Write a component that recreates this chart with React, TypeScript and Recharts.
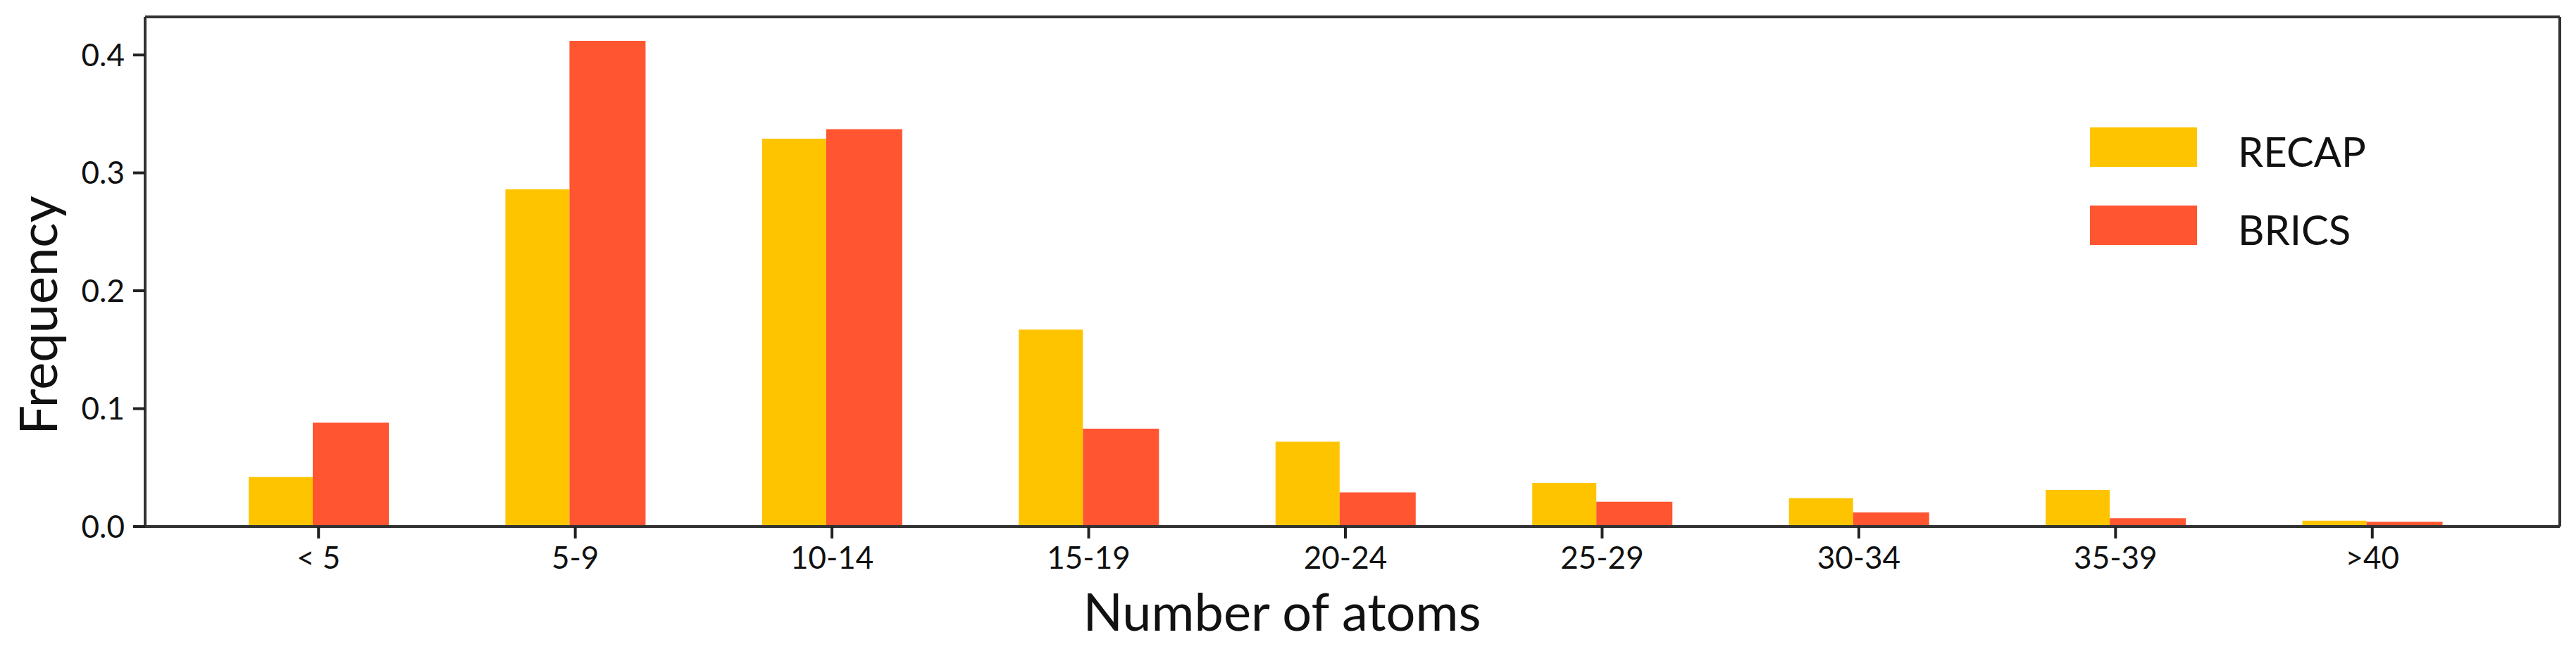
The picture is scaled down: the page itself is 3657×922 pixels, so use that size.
import React from 'react';
import { BarChart, Bar, XAxis, YAxis, Legend, Label } from 'recharts';

const categories = ['< 5', '5-9', '10-14', '15-19', '20-24', '25-29', '30-34', '35-39', '>40'];
const recapFreq = [0.042, 0.286, 0.329, 0.167, 0.072, 0.037, 0.024, 0.031, 0.005];
const bricsFreq = [0.088, 0.412, 0.337, 0.083, 0.029, 0.021, 0.012, 0.007, 0.004];
const yTicks = [0, 0.1, 0.2, 0.3, 0.4];
const seriesOrder = ['RECAP', 'BRICS'];

const YELLOW = '#FFC400';
const RED = '#FF5530';
const FONT = 'Lato, "Open Sans", sans-serif';

const data = categories.map((name, i) => ({ name, RECAP: recapFreq[i], BRICS: bricsFreq[i] }));

// legend box drawn in html, top right inside the plot
const renderLegend = (props: any) => {
  const payload = [...(props.payload || [])].sort(
    (a: any, b: any) => seriesOrder.indexOf(a.value) - seriesOrder.indexOf(b.value)
  );
  return (
    <div style={{ display: 'flex', flexDirection: 'column', gap: 55 }}>
      {payload.map((entry: any) => (
        <div key={entry.value} style={{ display: 'flex', alignItems: 'center', height: 56 }}>
          <div style={{ width: 152, height: 56, background: entry.color }} />
          <span
            style={{
              marginLeft: 58,
              fontSize: 58,
              fontFamily: FONT,
              color: '#111',
              lineHeight: '56px',
              position: 'relative',
              top: 6,
            }}
          >
            {entry.value}
          </span>
        </div>
      ))}
    </div>
  );
};

const App: React.FC = () => {
  return (
    <div style={{ position: 'absolute', left: 0, top: 0, background: '#fff' }}>
      <BarChart
        width={3657}
        height={922}
        data={data}
        margin={{ top: 22, right: 21, left: 0, bottom: 0 }}
        barGap={0}
      >
        <XAxis
          dataKey="name"
          height={174}
          padding={{ left: 64, right: 84 }}
          tickSize={17}
          tickMargin={12}
          axisLine={{ stroke: '#333', strokeWidth: 4 }}
          tickLine={{ stroke: '#222', strokeWidth: 4 }}
          tick={{ fontSize: 44, fontFamily: FONT, fill: '#111' }}
          interval={0}
        >
          <Label
            content={(p: any) => {
              const vb = p.viewBox;
              return (
                <text
                  x={vb.x + vb.width / 2 - 100}
                  y={896}
                  textAnchor="middle"
                  fontSize={74}
                  fontFamily={FONT}
                  fill="#111"
                >
                  Number of atoms
                </text>
              );
            }}
          />
        </XAxis>
        <XAxis
          xAxisId="top"
          dataKey="name"
          orientation="top"
          height={2}
          padding={{ left: 64, right: 84 }}
          tick={false}
          tickLine={false}
          axisLine={{ stroke: '#333', strokeWidth: 4 }}
        />
        <YAxis
          width={206}
          domain={[0, 0.4323]}
          ticks={yTicks}
          tickFormatter={(v: number) => v.toFixed(1)}
          tickSize={17}
          tickMargin={12}
          axisLine={{ stroke: '#333', strokeWidth: 4 }}
          tickLine={{ stroke: '#222', strokeWidth: 4 }}
          tick={{ fontSize: 44, fontFamily: FONT, fill: '#111' }}
        >
          <Label
            content={() => (
              <text
                x={81}
                y={448}
                transform="rotate(-90 81 448)"
                textAnchor="middle"
                fontSize={74}
                fontFamily={FONT}
                fill="#111"
              >
                Frequency
              </text>
            )}
          />
        </YAxis>
        <YAxis
          yAxisId="right"
          orientation="right"
          width={2}
          domain={[0, 0.4323]}
          tick={false}
          tickLine={false}
          axisLine={{ stroke: '#333', strokeWidth: 4 }}
        />
        <Legend
          layout="vertical"
          align="center"
          verticalAlign="middle"
          content={renderLegend}
          wrapperStyle={{ position: 'absolute', left: 2967, top: 181, width: 500 }}
        />
        <Bar dataKey="RECAP" fill={YELLOW} barSize={91} isAnimationActive={false} />
        <Bar dataKey="BRICS" fill={RED} barSize={108} isAnimationActive={false} />
      </BarChart>
    </div>
  );
};

export default App;
